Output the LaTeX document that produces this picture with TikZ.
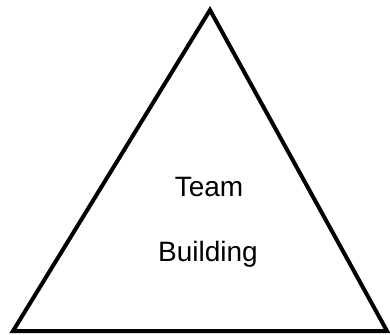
\documentclass[tikz,border=0pt]{standalone}
\usepackage{fontspec}
\setmainfont{Liberation Sans}
\begin{document}
\begin{tikzpicture}[x=1pt, y=1pt]
  % Define styles
  \tikzset{label/.style={anchor=base, inner sep=0pt, font=\fontsize{28}{34}\selectfont}}
  \useasboundingbox (0,0) rectangle (390,334);

  % Draw triangle
  \coordinate (apex) at (210,324);
  \coordinate (left) at (13,3);
  \coordinate (right) at (387,3);
  \draw[line width=4pt, line join=miter] (apex) -- (right) -- (left) -- cycle;

  % Add text
  \node[label] (team) at (209,137) {Team};
  \node[label] (building) at (208,72) {Building};
\end{tikzpicture}
\end{document}
